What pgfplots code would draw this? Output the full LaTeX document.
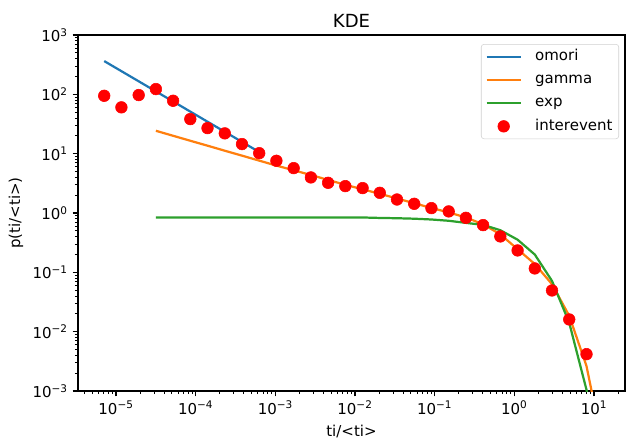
\documentclass[border=0pt]{standalone}
\usepackage{fontspec}
\setmainfont{DejaVu Sans}
\usepackage{pgfplots}
\pgfplotsset{compat=1.18}
\definecolor{omoriblue}{HTML}{1F77B4}
\definecolor{gammaorange}{HTML}{FF7F0E}
\definecolor{expgreen}{HTML}{2CA02C}
\newcommand{\lblfont}{\fontsize{10.8bp}{13bp}\selectfont}
\newcommand{\dec}[1]{10\textsuperscript{#1}}

\begin{document}
\begin{tikzpicture}
\useasboundingbox (-56.16bp,-36bp) rectangle (395.28bp,281.52bp);
\begin{axis}[
  at={(0,0)}, anchor=south west, scale only axis,
  width=393.84bp, height=256.3bp,
  xmode=log, ymode=log,
  xmin=3.327e-6, xmax=24.5, ymin=1e-3, ymax=1e3,
  axis line style={line width=0.87bp},
  tick align=outside, xtick pos=bottom, ytick pos=left,
  major tick length=3.8bp, minor tick length=2.2bp,
  every major tick/.append style={line width=0.87bp, black},
  every minor tick/.append style={line width=0.65bp, black},
  xtick={1e-5,1e-4,1e-3,1e-2,1e-1,1,10},
  xticklabels={\dec{−5},\dec{−4},\dec{−3},\dec{−2},\dec{−1},\dec{0},\dec{1}},
  ytick={1e-3,1e-2,1e-1,1,10,100,1000},
  yticklabels={\dec{−3},\dec{−2},\dec{−1},\dec{0},\dec{1},\dec{2},\dec{3}},
  minor xtick={4e-6,5e-6,6e-6,7e-6,8e-6,9e-6,
    2e-5,3e-5,4e-5,5e-5,6e-5,7e-5,8e-5,9e-5,
    2e-4,3e-4,4e-4,5e-4,6e-4,7e-4,8e-4,9e-4,
    2e-3,3e-3,4e-3,5e-3,6e-3,7e-3,8e-3,9e-3,
    2e-2,3e-2,4e-2,5e-2,6e-2,7e-2,8e-2,9e-2,
    0.2,0.3,0.4,0.5,0.6,0.7,0.8,0.9,
    2,3,4,5,6,7,8,9,20},
  minor ytick={2e-3,3e-3,4e-3,5e-3,6e-3,7e-3,8e-3,9e-3,
    2e-2,3e-2,4e-2,5e-2,6e-2,7e-2,8e-2,9e-2,
    0.2,0.3,0.4,0.5,0.6,0.7,0.8,0.9,
    2,3,4,5,6,7,8,9,
    20,30,40,50,60,70,80,90,
    200,300,400,500,600,700,800,900},
  ticklabel style={font=\lblfont},
  title={KDE},
  every axis title/.style={at={(axis description cs:0.5,1.0402)}, anchor=center,
    font=\fontsize{13bp}{15bp}\selectfont},
  xlabel={ti/<ti>},
  every axis x label/.style={at={(axis description cs:0.5,-0.1124)}, anchor=center, font=\lblfont},
  ylabel={p(ti/<ti>)},
  every axis y label/.style={at={(axis description cs:-0.1132,0.5)}, anchor=center, rotate=90, font=\lblfont},
  legend cell align=left,
  legend image code/.code={\draw[mark repeat=2,mark phase=2,#1] plot coordinates {(0bp,0bp)(12.35bp,0bp)(24.7bp,0bp)};},
  legend style={font=\lblfont, at={(1,1)}, anchor=north east, xshift=-4.3bp, yshift=-6.5bp,
    draw=black!18, rounded corners=2bp, fill=white, inner xsep=3bp, inner ysep=2.3bp,
    nodes={inner sep=1.5bp, text height=7.9bp, text depth=2.4bp},
    row sep=3.4bp, /tikz/every odd column/.append style={column sep=8bp}},
]
% omori fit
\addplot[omoriblue, line width=1.6bp] coordinates {
  (7.10e-6,363.9) (1.167e-5,246.0) (1.923e-5,166.0) (3.162e-5,112.2) (5.20e-5,75.9)
  (8.55e-5,51.2) (1.406e-4,34.6) (2.317e-4,23.4) (3.811e-4,15.8) (6.266e-4,10.66)};
\addlegendentry{omori}
% gamma fit
\addplot[gammaorange, line width=1.6bp] coordinates {
  (3.162e-5,24.32) (5.20e-5,20.04) (8.55e-5,16.52) (1.406e-4,13.65) (2.317e-4,11.22)
  (3.811e-4,9.27) (6.266e-4,7.64) (1.030e-3,6.30) (1.698e-3,5.25) (2.793e-3,4.37)
  (4.592e-3,3.61) (7.551e-3,2.99) (1.245e-2,2.51) (2.046e-2,2.11) (3.365e-2,1.758)
  (5.534e-2,1.462) (9.10e-2,1.216) (0.1500,1.023) (0.2466,0.841) (0.4055,0.646)
  (0.6668,0.437) (1.099,0.2455) (1.807,0.1380) (2.972,0.0631) (4.887,0.01849)
  (8.054,0.00263) (13.24,0.0001)};
\addlegendentry{gamma}
% exponential fit
\addplot[expgreen, line width=1.6bp] coordinates {
  (3.162e-5,0.841) (5.20e-5,0.841) (8.55e-5,0.841) (1.406e-4,0.841) (2.317e-4,0.841)
  (3.811e-4,0.841) (6.266e-4,0.841) (1.030e-3,0.841) (1.698e-3,0.841) (2.793e-3,0.841)
  (4.592e-3,0.841) (7.551e-3,0.841) (1.245e-2,0.841) (2.046e-2,0.826) (3.365e-2,0.817)
  (5.534e-2,0.802) (9.10e-2,0.778) (0.1500,0.740) (0.2466,0.682) (0.4055,0.631)
  (0.6668,0.513) (1.099,0.355) (1.807,0.1995) (2.972,0.0716) (4.887,0.01413)
  (8.054,0.001047) (13.24,0.0000126)};
\addlegendentry{exp}
% data
\addplot[only marks, mark=*, mark size=4.2bp, red, mark options={fill=red, draw=red}] coordinates {
  (7.10e-6,94.6) (1.167e-5,60.4) (1.923e-5,97.3) (3.162e-5,122.7) (5.20e-5,78.0)
  (8.55e-5,38.3) (1.406e-4,27.0) (2.317e-4,22.0) (3.811e-4,14.5) (6.266e-4,10.2)
  (1.030e-3,7.59) (1.698e-3,5.71) (2.793e-3,3.98) (4.592e-3,3.23) (7.551e-3,2.84)
  (1.245e-2,2.63) (2.046e-2,2.19) (3.365e-2,1.69) (5.534e-2,1.43) (9.10e-2,1.21)
  (0.1500,1.064) (0.2466,0.830) (0.4055,0.625) (0.6668,0.403) (1.099,0.234)
  (1.807,0.1164) (2.972,0.0495) (4.887,0.01607) (8.054,0.00418)};
\addlegendentry{interevent}
\end{axis}
\end{tikzpicture}
\end{document}
